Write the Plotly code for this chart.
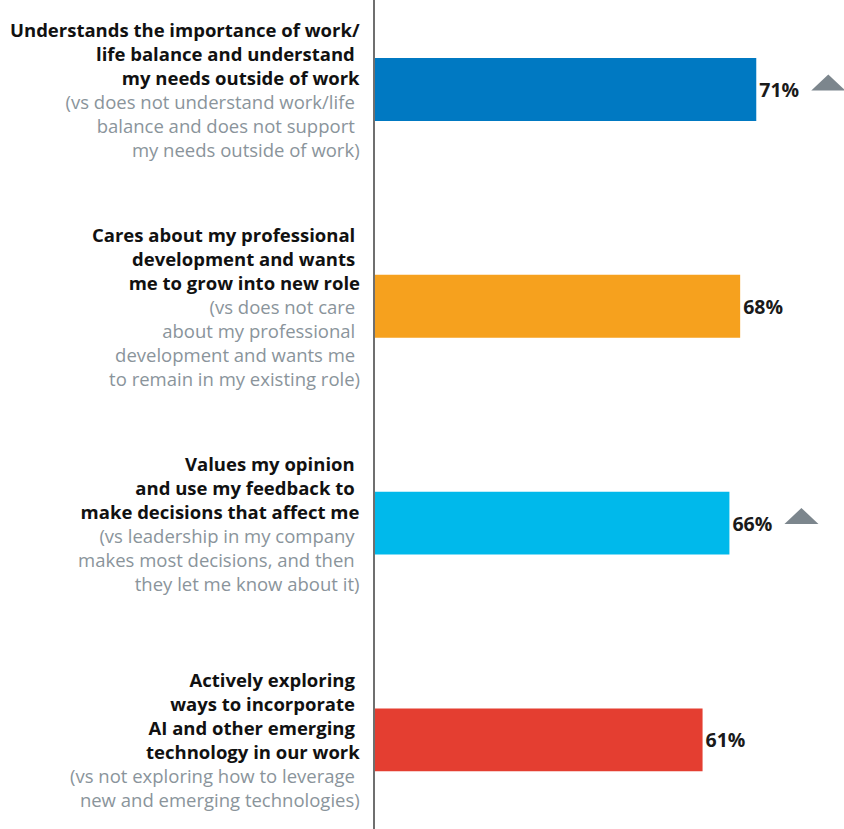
import plotly.graph_objects as go

# Survey statements: bold headline and the grey contrasting statement
keys = ["worklife", "development", "opinion", "technology"]
headlines = [
    "Understands the importance of work/<br>life balance and understand <br>my needs outside of work",
    "Cares about my professional <br>development and wants <br>me to grow into new role",
    "Values my opinion <br>and use my feedback to <br>make decisions that affect me",
    "Actively exploring <br>ways to incorporate <br>AI and other emerging <br>technology in our work",
]
contrasts = [
    "(vs does not understand work/life <br>balance and does not support <br>my needs outside of work)",
    "(vs does not care <br>about my professional <br>development and wants me <br>to remain in my existing role)",
    "(vs leadership in my company <br>makes most decisions, and then <br>they let me know about it)",
    "(vs not exploring how to leverage <br>new and emerging technologies)",
]
values = [71, 68, 66, 61]
trend_up = [True, False, True, False]
bar_colors = ["#0079C2", "#F6A11E", "#00B9EB", "#E43E31"]

W, H = 844, 829
AXIS_PX = 375
PX_PER_PCT = 5.37
FONT = "Open Sans"

fig = go.Figure(
    go.Bar(
        x=values,
        y=keys,
        orientation="h",
        marker=dict(color=bar_colors, line=dict(width=0)),
        width=0.29,
        text=[f"<b>{v}%</b>" for v in values],
        textposition="outside",
        textfont=dict(family=FONT, size=19.5, color="#1a1a1a"),
        cliponaxis=False,
        hoverinfo="skip",
    )
)

# Left-hand statement labels, right-aligned against the axis
for k, head, con in zip(keys, headlines, contrasts):
    fig.add_annotation(
        x=362 / W, xref="paper", xanchor="right",
        y=k, yref="y", yanchor="middle",
        text=f"<b>{head}</b><br><span style='color:#8a949b'>{con}</span>",
        align="right", showarrow=False,
        font=dict(family=FONT, size=18.5, color="#111111"),
    )

# Upward triangles flagging an increase
for k, v, up in zip(keys, values, trend_up):
    if up:
        fig.add_shape(
            type="path", xref="x", yref="y",
            xsizemode="pixel", ysizemode="pixel",
            xanchor=v, yanchor=k,
            path="M 55,-1 L 89,-1 L 72,15 Z",
            fillcolor="#7c868d", line=dict(width=0),
        )

fig.update_layout(
    width=W, height=H,
    margin=dict(l=0, r=0, t=0, b=0),
    paper_bgcolor="white", plot_bgcolor="white",
    showlegend=False,
    xaxis=dict(
        domain=[AXIS_PX / W, 1],
        range=[0, (W - AXIS_PX) / PX_PER_PCT],
        visible=False,
    ),
    yaxis=dict(
        domain=[0, 1],
        range=[3.411, -0.4128],
        showticklabels=False, ticks="",
        showgrid=False, zeroline=False,
        showline=True, linecolor="#6f6f6f", linewidth=1.5,
    ),
)

fig.write_html("out.html")
